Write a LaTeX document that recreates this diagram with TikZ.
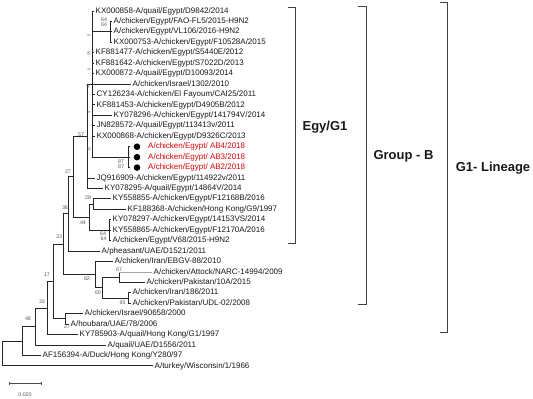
\documentclass[tikz,border=0pt]{standalone}
\usepackage{fontspec}
\setmainfont{Liberation Sans}
\begin{document}
\begin{tikzpicture}[x=1pt,y=-1pt,
  br/.style={draw=black!85,line width=1pt},
  brg/.style={draw=black!35,line width=1pt},
  leaf/.style={anchor=west,inner sep=1.5pt,text height=5.8pt,text depth=1.7pt,font=\fontsize{8}{9}\selectfont,text=black!90},
  redleaf/.style={leaf,text=red!85!black},
  dotmark/.style={circle,fill=black,inner sep=0pt,minimum size=6.6pt},
  bs/.style={inner sep=0pt,font=\fontsize{5.3}{5.3}\selectfont,text=black!65},
  bsr/.style={bs,rotate=90,font=\fontsize{4}{4}\selectfont},
  grp/.style={inner sep=0pt,font=\fontsize{13}{14}\selectfont\bfseries,text=black!90},
  brk/.style={draw=black!75,line width=0.85pt}]
\useasboundingbox (0,0) rectangle (533,399);

% internal nodes
\coordinate (nA) at (92,84.08);
\coordinate (n64a) at (110,31.88);
\coordinate (nRed) at (128,157.16);
\coordinate (n57) at (87,136.28);
\coordinate (n28) at (93,204.14);
\coordinate (n64b) at (109,230.24);
\coordinate (n44) at (89,217.19);
\coordinate (n27) at (73,176.7);
\coordinate (n36) at (68,213.9);
\coordinate (n67) at (119,277.22);
\coordinate (n95) at (128,298.1);
\coordinate (n60) at (102,287.66);
\coordinate (n82) at (95,274.6);
\coordinate (n33) at (63,244.25);
\coordinate (nIH) at (65,318.98);
\coordinate (n17) at (53,281.6);
\coordinate (n33b) at (47,308.1);
\coordinate (n48) at (35,326.6);
\coordinate (nR1) at (22,341.06);
\coordinate (root) at (2,353.5);

% leaves
\node[leaf] (l1) at (94,11.0) {KX000858-A/quail/Egypt/D9842/2014};
\node[leaf] (l2) at (112,21.44) {A/chicken/Egypt/FAO-FL5/2015-H9N2};
\node[leaf] (l3) at (112,31.88) {A/chicken/Egypt/VL106/2016-H9N2};
\node[leaf] (l4) at (112,42.32) {KX000753-A/chicken/Egypt/F10528A/2015};
\node[leaf] (l5) at (94,52.76) {KF881477-A/chicken/Egypt/S5440E/2012};
\node[leaf] (l6) at (94,63.2) {KF881642-A/chicken/Egypt/S7022D/2013};
\node[leaf] (l7) at (94,73.64) {KX000872-A/quail/Egypt/D10093/2014};
\node[leaf] (l8) at (131,84.08) {A/chicken/Israel/1302/2010};
\node[leaf] (l9) at (95,94.52) {CY126234-A/chicken/El Fayoum/CAI25/2011};
\node[leaf] (l10) at (95,104.96) {KF881453-A/chicken/Egypt/D4905B/2012};
\node[leaf] (l11) at (112,115.4) {KY078296-A/chicken/Egypt/141794V/2014};
\node[leaf] (l12) at (95,125.84) {JN828572-A/quail/Egypt/113413v/2011};
\node[leaf] (l13) at (95,136.28) {KX000868-A/chicken/Egypt/D9326C/2013};
\coordinate (r14) at (130,146.72);
\coordinate (r15) at (130,157.16);
\coordinate (r16) at (130,167.6);
\node[dotmark] (d14) at (137,146.72) {};
\node[dotmark] (d15) at (137,157.16) {};
\node[dotmark] (d16) at (137,167.6) {};
\node[redleaf] (l14) at (146.5,146.72) {A/chicken/Egypt/ AB4/2018};
\node[redleaf] (l15) at (146.5,157.16) {A/chicken/Egypt/ AB3/2018};
\node[redleaf] (l16) at (146.5,167.6) {A/chicken/Egypt/ AB2/2018};
\node[leaf] (l17) at (95,178.04) {JQ916909-A/chicken/Egypt/114922v/2011};
\node[leaf] (l18) at (103,188.48) {KY078295-A/quail/Egypt/14864V/2014};
\node[leaf] (l19) at (111,198.92) {KY558855-A/chicken/Egypt/F12168B/2016};
\node[leaf] (l20) at (126,209.36) {KF188368-A/chicken/Hong Kong/G9/1997};
\node[leaf] (l21) at (111,219.8) {KY078297-A/chicken/Egypt/14153VS/2014};
\node[leaf] (l22) at (111,230.24) {KY558865-A/chicken/Egypt/F12170A/2016};
\node[leaf] (l23) at (111,240.68) {A/chicken/Egypt/V68/2015-H9N2};
\node[leaf] (l24) at (100,251.12) {A/pheasant/UAE/D1521/2011};
\node[leaf] (l25) at (113,261.56) {A/chicken/Iran/EBGV-88/2010};
\node[leaf] (l26) at (152,272.0) {A/chicken/Attock/NARC-14994/2009};
\node[leaf] (l27) at (145,282.44) {A/chicken/Pakistan/10A/2015};
\node[leaf] (l28) at (131,292.88) {A/chicken/Iran/186/2011};
\node[leaf] (l29) at (131,303.32) {A/chicken/Pakistan/UDL-02/2008};
\node[leaf] (l30) at (83,313.76) {A/chicken/Israel/90658/2000};
\node[leaf] (l31) at (69,324.2) {A/houbara/UAE/78/2006};
\node[leaf] (l32) at (78,334.64) {KY785903-A/quail/Hong Kong/G1/1997};
\node[leaf] (l33) at (106,345.08) {A/quail/UAE/D1556/2011};
\node[leaf] (l34) at (41,355.52) {AF156394-A/Duck/Hong Kong/Y280/97};
\node[leaf] (l35) at (153,365.96) {A/turkey/Wisconsin/1/1966};

% branches
\foreach \l in {l1,l5,l6,l7,l8,l9,l10,l11,l12,l13} \draw[br] (nA) |- (\l.west);
\foreach \l in {l2,l3,l4} \draw[br] (n64a) |- (\l.west);
\foreach \l in {r14,r15,r16} \draw[br] (nRed) |- (\l);
\draw[br] (nA) |- (n64a);
\draw[br] (nA) |- (nRed);
\draw[br] (n57) |- (nA);
\draw[br] (n57) |- (l17.west);
\draw[br] (n57) |- (l18.west);
\draw[br] (n28) |- (l19.west);
\draw[br] (n28) |- (l20.west);
\foreach \l in {l21,l22,l23} \draw[br] (n64b) |- (\l.west);
\draw[br] (n44) |- (n28);
\draw[br] (n44) |- (n64b);
\draw[br] (n27) |- (n57);
\draw[br] (n27) |- (n44);
\draw[br] (n36) |- (n27);
\draw[br] (n36) |- (l24.west);
\draw[br] (n67) |- (l27.west);
\draw[br] (n67) -- (n67|-l26.west);
\draw[brg] (n67|-l26.west) -- (l26.west);
\draw[br] (n95) |- (l28.west);
\draw[br] (n95) |- (l29.west);
\draw[br] (n60) |- (n67);
\draw[br] (n60) |- (n95);
\draw[br] (n82) |- (l25.west);
\draw[br] (n82) |- (n60);
\draw[br] (n33) |- (n36);
\draw[br] (n33) |- (n82);
\draw[br] (nIH) |- (l30.west);
\draw[br] (nIH) |- (l31.west);
\draw[br] (n17) |- (n33);
\draw[br] (n17) |- (nIH);
\draw[br] (n33b) |- (n17);
\draw[br] (n33b) |- (l32.west);
\draw[br] (n48) |- (n33b);
\draw[br] (n48) |- (l33.west);
\draw[br] (nR1) |- (n48);
\draw[br] (nR1) |- (l34.west);
\draw[br] (root) |- (nR1);
\draw[br] (root) |- (l35.west);

% bootstrap values
\node[bs] (b64a) at (104,19.5) {64};
\node[bs] (b64b) at (104,24.5) {64};
\node[bsr] (bv1) at (89,35) {5};
\node[bsr] (bv2) at (89,53) {55};
\node[bsr] (bv3) at (89,69) {0};
\node[bsr] (bv4) at (88,86) {42};
\node[bsr] (bv5) at (89,112) {4};
\node[bsr] (bv6) at (89,149) {15};
\node[bs] (b87a) at (121,162) {87};
\node[bs] (b87b) at (121,167) {87};
\node[bs] (b57) at (81,134.5) {57};
\node[bs] (b27) at (68,172) {27};
\node[bs] (b28) at (88,197.5) {28};
\node[bs] (b36) at (65,208) {36};
\node[bs] (b44) at (83,223) {44};
\node[bs] (b64c) at (103,233.5) {64};
\node[bs] (b64d) at (103.5,238.5) {64};
\node[bs] (b33) at (59,237) {33};
\node[bs] (b67) at (119,269.5) {67};
\node[bs] (b82) at (87,279) {82};
\node[bs] (b60) at (98,292.5) {60};
\node[bs] (b95) at (122.5,302.5) {95};
\node[bs] (b27b) at (67,326.5) {27};
\node[bs] (b17) at (47,275) {17};
\node[bs] (b33b) at (42,302) {33};
\node[bs] (b48) at (28,319) {48};

% scale bar
\coordinate (sb1) at (9,383.3);
\coordinate (sb2) at (41,383.3);
\draw[draw=black!70,line width=0.75pt] (sb1) -- (sb2);
\draw[draw=black!70,line width=0.75pt] ([yshift=1.8pt]sb1) -- ([yshift=-1.8pt]sb1);
\draw[draw=black!70,line width=0.75pt] ([yshift=1.8pt]sb2) -- ([yshift=-1.8pt]sb2);
\node[bs] (sbl) at (25,395) {0.020};

% brackets
\coordinate (e1) at (295,7); \coordinate (e2) at (295,243);
\draw[brk] ([xshift=-7pt]e1) -- (e1) -- (e2) -- ([xshift=-7pt]e2);
\coordinate (g1) at (366,6); \coordinate (g2) at (366,304);
\draw[brk] ([xshift=-8pt]g1) -- (g1) -- (g2) -- ([xshift=-8pt]g2);
\coordinate (h1) at (447,2); \coordinate (h2) at (447,332);
\draw[brk] ([xshift=-7pt]h1) -- (h1) -- (h2) -- ([xshift=-7pt]h2);
\node[grp] (egy) at (325,127) {Egy/G1};
\node[grp] (grpb) at (403.5,156) {Group - B};
\node[grp] (lin) at (493,168) {G1- Lineage};
\end{tikzpicture}
\end{document}
